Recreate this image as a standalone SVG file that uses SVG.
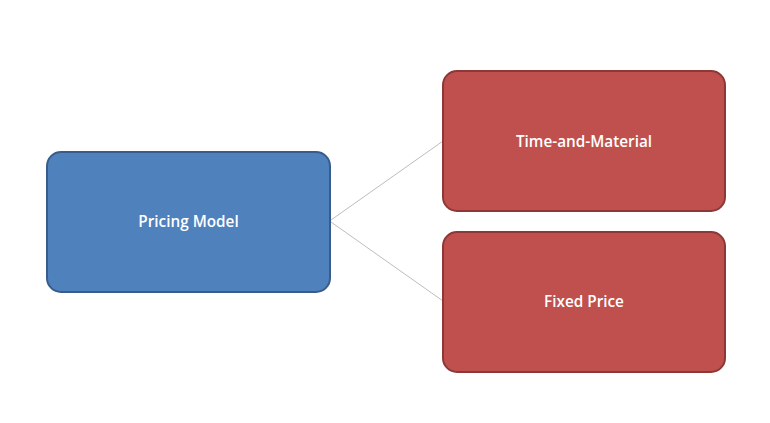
<svg xmlns="http://www.w3.org/2000/svg" width="770" height="423" viewBox="0 0 770 423">
<style>
.blue{fill:#4F81BD;stroke:#385D8A;stroke-width:2}
.red{fill:#C0504D;stroke:#8C3836;stroke-width:2}
.lbl{fill:#fff;font-family:"Open Sans","Liberation Sans",Arial,sans-serif;font-size:15.3px;font-weight:600;text-anchor:middle;dominant-baseline:central}
.conn{stroke:#BDBDBD;stroke-width:1;fill:none}
</style>
<rect width="770" height="423" fill="#fff"/>
<g id="connectors">
<line class="conn" x1="331" y1="220" x2="443" y2="141"/>
<line class="conn" x1="331" y1="222" x2="443" y2="301"/>
</g>
<g id="pricing-model">
<rect class="blue" x="47" y="152" width="283" height="140" rx="14"/>
<text class="lbl" x="188.5" y="221">Pricing Model</text>
</g>
<g id="time-and-material">
<rect class="red" x="443" y="71" width="282" height="140" rx="14"/>
<text class="lbl" x="584" y="141">Time-and-Material</text>
</g>
<g id="fixed-price">
<rect class="red" x="443" y="232" width="282" height="140" rx="14"/>
<text class="lbl" x="584" y="301">Fixed Price</text>
</g>
</svg>
